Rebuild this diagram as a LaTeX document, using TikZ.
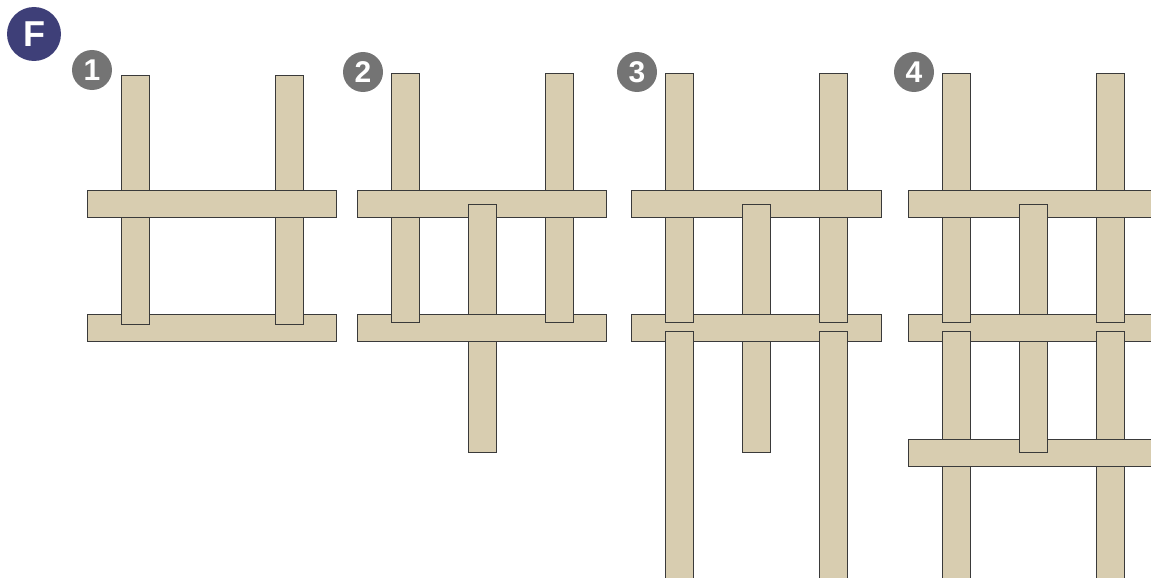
\documentclass[tikz,border=0pt]{standalone}
\usepackage{fontspec}
\setsansfont{Liberation Sans}
\usepackage{tikz}
\usetikzlibrary{positioning}

\definecolor{wood}{HTML}{D8CDB0}
\definecolor{woodline}{HTML}{3A3A3A}
\definecolor{badgegrey}{HTML}{747474}
\definecolor{badgeblue}{HTML}{3E3F78}

\begin{document}
\begin{tikzpicture}[x=1pt,y=-1pt]
\tikzset{strip/.style = {fill=wood,draw=woodline,line width=0.8pt},
         stubfill/.style = {fill=wood},
         stubline/.style = {draw=woodline,line width=0.8pt},
         badge/.style = {shape=circle,fill=badgegrey,text=white,minimum size=40pt,inner sep=0pt,font=\sffamily\bfseries\fontsize{30}{30}\selectfont},
         letter/.style = {shape=circle,fill=badgeblue,text=white,minimum size=54pt,inner sep=0pt,font=\sffamily\bfseries\fontsize{36}{36}\selectfont}}
\useasboundingbox (0,0) rectangle (1151,578);
% badges
\node[letter] (f) at (34,34) {F};
\node[badge] (b1) at (92,70) {1};
\node[badge] (b2) at (363,72) {2};
\node[badge] (b3) at (637,72) {3};
\node[badge] (b4) at (914,72) {4};

% step 1
\draw[strip] (87,314) rectangle (336,341.5);
\draw[strip] (121,75) rectangle (149,324);
\draw[strip] (275,75) rectangle (303,324);
\draw[strip] (87,190) rectangle (336,217);

% step 2
\draw[strip] (391,73) rectangle (419,322);
\draw[strip] (545,73) rectangle (573,322);
\draw[strip] (357,190) rectangle (606,217);
\draw[strip] (468,204) rectangle (496,452.5);
\draw[strip] (357,314) rectangle (606,341.5);
\fill[stubfill] (391,305) rectangle (419,322);
\draw[stubline] (391,305) |- (419,322) -- (419,305);
\fill[stubfill] (545,305) rectangle (573,322);
\draw[stubline] (545,305) |- (573,322) -- (573,305);

% step 3
\draw[strip] (665,73) rectangle (693,322);
\draw[strip] (819,73) rectangle (847,322);
\draw[strip] (631,190) rectangle (881,217);
\draw[strip] (742,204) rectangle (770,452.5);
\draw[strip] (631,314) rectangle (881,341.5);
\fill[stubfill] (665,305) rectangle (693,322);
\draw[stubline] (665,305) |- (693,322) -- (693,305);
\fill[stubfill] (819,305) rectangle (847,322);
\draw[stubline] (819,305) |- (847,322) -- (847,305);
\draw[strip] (665,331.5) rectangle (693,590);
\draw[strip] (819,331.5) rectangle (847,590);

% step 4
\draw[strip] (942,73) rectangle (970,322);
\draw[strip] (1096,73) rectangle (1124,322);
\draw[strip] (908,190) rectangle (1170,217);
\draw[strip] (1019,204) rectangle (1047,452.5);
\draw[strip] (908,314) rectangle (1170,341.5);
\fill[stubfill] (942,305) rectangle (970,322);
\draw[stubline] (942,305) |- (970,322) -- (970,305);
\fill[stubfill] (1096,305) rectangle (1124,322);
\draw[stubline] (1096,305) |- (1124,322) -- (1124,305);
\draw[strip] (942,331.5) rectangle (970,590);
\draw[strip] (1096,331.5) rectangle (1124,590);
\draw[strip] (908,439) rectangle (1170,466.5);
\fill[stubfill] (1019,430) rectangle (1047,452.5);
\draw[stubline] (1019,430) |- (1047,452.5) -- (1047,430);
\end{tikzpicture}
\end{document}
